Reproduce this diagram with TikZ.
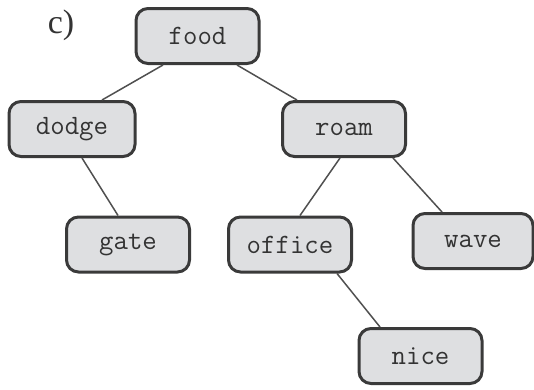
\documentclass[tikz,border=0pt]{standalone}
\usepackage{fontspec}
\setmainfont{Liberation Serif}
\usetikzlibrary{calc}
\definecolor{boxfill}{HTML}{DEDFE1}
\definecolor{boxline}{HTML}{3A3A3A}
\definecolor{edgecol}{HTML}{505050}
\definecolor{txtcol}{HTML}{333333}
\begin{document}
\begin{tikzpicture}[x=1pt,y=-1pt,
  tnode/.style={draw=boxline, fill=boxfill, line width=3pt, rounded corners=12pt,
    minimum width=123pt, minimum height=55pt, inner sep=0pt, anchor=center,
    font=\ttfamily\fontsize{28}{28}\selectfont, text=txtcol},
  edge/.style={draw=edgecol, line width=1.5pt}]
\useasboundingbox (0,0) rectangle (534,389);
\node[font=\fontsize{34}{34}\selectfont, text=txtcol] (lbl) at (61,25) {c)};
\node[tnode] (food) at (197.5,36) {food};
\node[tnode, minimum width=126pt] (dodge) at (72,129) {dodge};
\node[tnode] (roam) at (344,129) {roam};
\node[tnode] (gate) at (128,244.5) {gate};
\node[tnode] (office) at (290,244.5) {office};
\node[tnode, minimum width=120pt] (wave) at (473,241) {wave};
\node[tnode] (nice) at (420.5,356) {nice};
\draw[edge] ($(food.south)+(-34.5,0)$) -- ($(dodge.north)+(30,0)$);
\draw[edge] ($(food.south)+(39.5,0)$) -- ($(roam.north)+(-47,0)$);
\draw[edge] ($(dodge.south)+(10,0)$) -- ($(gate.north)+(-10,0)$);
\draw[edge] ($(roam.south)+(-4,0)$) -- ($(office.north)+(10,0)$);
\draw[edge] ($(roam.south)+(49,0)$) -- ($(wave.north)+(-31,0)$);
\draw[edge] ($(office.south)+(47,0)$) -- ($(nice.north)+(-40.5,0)$);
\end{tikzpicture}
\end{document}
